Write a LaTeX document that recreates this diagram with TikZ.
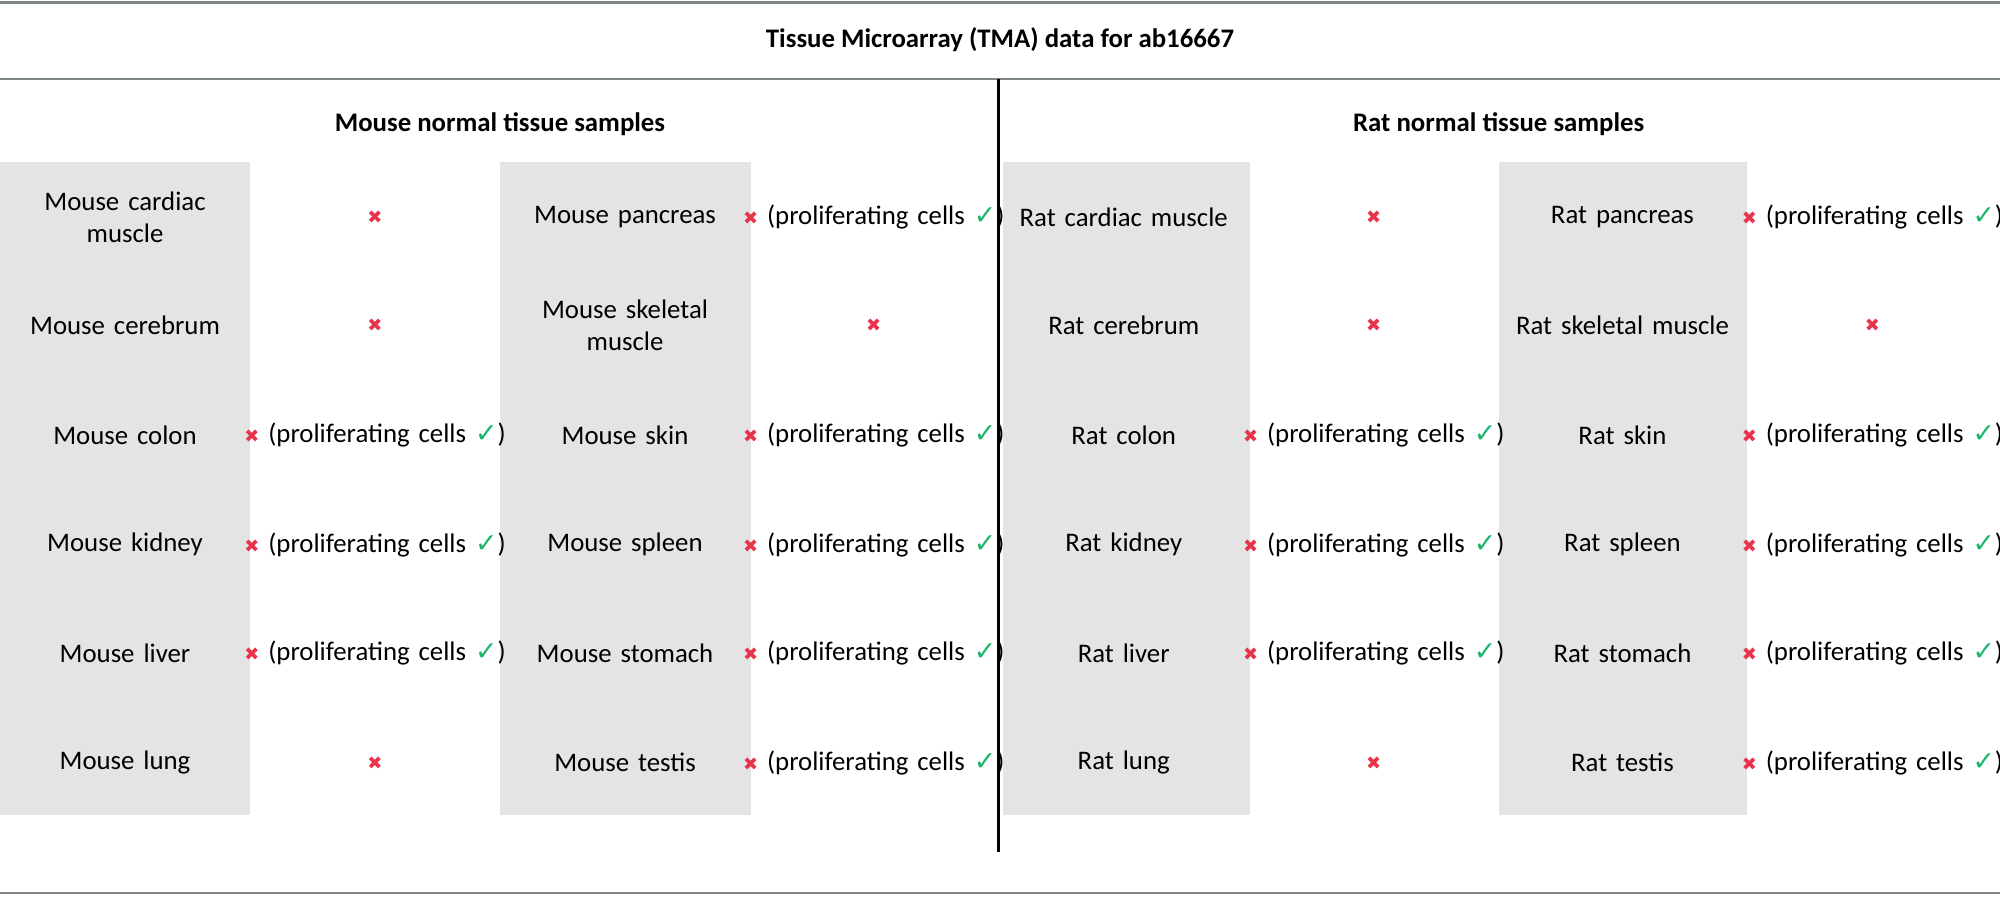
\documentclass[tikz,border=0pt]{standalone}
\usepackage{fontspec}
\setmainfont{Carlito}
\newfontfamily\symf{DejaVu Sans}
\definecolor{cellgrey}{HTML}{E3E4E3}
\definecolor{rulegrey}{HTML}{7F8784}
\definecolor{xred}{HTML}{E8334A}
\definecolor{vgreen}{HTML}{1BB56B}
\newcommand{\xno}{{\symf\fontsize{9}{10}\selectfont\textcolor{xred}{✖}}}
\newcommand{\prolif}{\xno\ (proliferating cells {\symf\textcolor{vgreen}{✓}})}
\begin{document}
\begin{tikzpicture}[x=0.6378pt,y=-0.6378pt,
  txt/.style={font=\fontsize{13.4}{16}\selectfont,align=center,text width=115pt,inner sep=0pt},
  hdr/.style={font=\bfseries\fontsize{13.4}{16}\selectfont}]
\useasboundingbox (0,0) rectangle (1568,702.5);
\fill[white] (0,0) rectangle (1568,702.5);
\foreach \a/\b in {0/196, 392/589, 786/980, 1175/1370}
  \fill[cellgrey] (\a,127) rectangle (\b,639);
\draw[rulegrey,line width=1.2pt] (0,2) -- (1568,2);
\draw[rulegrey,line width=1.2pt] (0,62) -- (1568,62);
\draw[rulegrey,line width=1.2pt] (0,700) -- (1568,700);
\draw[black,line width=1.3pt] (783,62) -- (783,668);
\node[hdr] (title) at (784,31) {Tissue Microarray (TMA) data for ab16667};
\node[hdr] (mh) at (392,97) {Mouse normal tissue samples};
\node[hdr] (rh) at (1175,97) {Rat normal tissue samples};
\foreach \y/\t/\r [count=\i] in {170/{Mouse cardiac\\muscle}/0, 255/{Mouse cerebrum}/0, 341/{Mouse colon}/1, 427/{Mouse kidney}/1, 512/{Mouse liver}/1, 598/{Mouse lung}/0}{
  \node[txt] (ma\i) at (98,\y) {\t};
  \ifnum\r=1 \node[txt,text width=150pt] (mar\i) at (294,\y) {\prolif};
  \else \node[txt] (mar\i) at (294,\y) {\xno}; \fi
}
\foreach \y/\t/\r [count=\i] in {170/{Mouse pancreas}/1, 255/{Mouse skeletal\\muscle}/0, 341/{Mouse skin}/1, 427/{Mouse spleen}/1, 512/{Mouse stomach}/1, 598/{Mouse testis}/1}{
  \node[txt] (mb\i) at (490,\y) {\t};
  \ifnum\r=1 \node[txt,text width=150pt] (mbr\i) at (685,\y) {\prolif};
  \else \node[txt] (mbr\i) at (685,\y) {\xno}; \fi
}
\foreach \y/\t/\r [count=\i] in {170/{Rat cardiac muscle}/0, 255/{Rat cerebrum}/0, 341/{Rat colon}/1, 427/{Rat kidney}/1, 512/{Rat liver}/1, 598/{Rat lung}/0}{
  \node[txt,text width=125pt] (ra\i) at (881,\y) {\t};
  \ifnum\r=1 \node[txt,text width=150pt] (rar\i) at (1077,\y) {\prolif};
  \else \node[txt] (rar\i) at (1077,\y) {\xno}; \fi
}
\foreach \y/\t/\r [count=\i] in {170/{Rat pancreas}/1, 255/{Rat skeletal muscle}/0, 341/{Rat skin}/1, 427/{Rat spleen}/1, 512/{Rat stomach}/1, 598/{Rat testis}/1}{
  \node[txt,text width=125pt] (rb\i) at (1272,\y) {\t};
  \ifnum\r=1 \node[txt,text width=150pt] (rbr\i) at (1468,\y) {\prolif};
  \else \node[txt] (rbr\i) at (1468,\y) {\xno}; \fi
}
\end{tikzpicture}
\end{document}
